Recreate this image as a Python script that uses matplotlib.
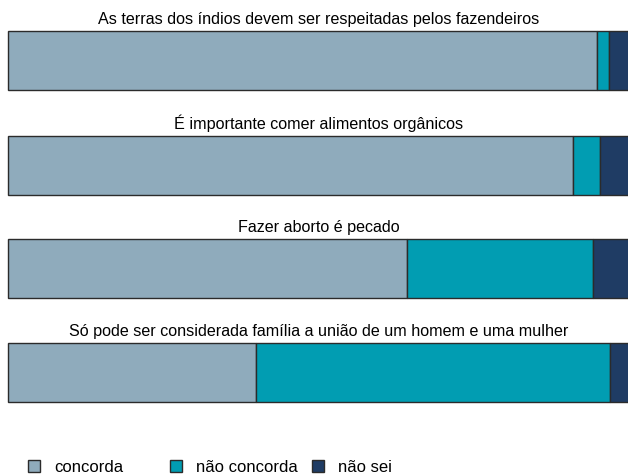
import matplotlib.pyplot as plt
from matplotlib.patches import Patch

plt.rcParams['font.family'] = ['Liberation Sans', 'DejaVu Sans']

# survey statements and share of answers (fractions of 1)
perguntas = [
    'As terras dos índios devem ser respeitadas pelos fazendeiros',
    'É importante comer alimentos orgânicos',
    'Fazer aborto é pecado',
    'Só pode ser considerada família a união de um homem e uma mulher',
]
concorda = [0.947, 0.908, 0.641, 0.399]
nao_concorda = [0.019, 0.044, 0.299, 0.569]
nao_sei = [0.034, 0.048, 0.060, 0.032]

categorias = ['concorda', 'não concorda', 'não sei']
cores = ['#8fabbc', '#019db2', '#1f3c64']

W, H = 628, 474
fig = plt.figure(figsize=(W / 100, H / 100), dpi=100)

# top pixel of each bar panel
tops = [31, 136, 239, 343]
bar_h = 59

for i, q in enumerate(perguntas):
    ax = fig.add_axes([8 / W, 1 - (tops[i] + bar_h) / H, 622 / W, bar_h / H])
    left = 0
    for val, cor in zip([concorda[i], nao_concorda[i], nao_sei[i]], cores):
        ax.barh(0, val, left=left, height=1, color=cor,
                edgecolor='#2b2b2b', linewidth=1.0, clip_on=False)
        left += val
    ax.set_xlim(0, 1)
    ax.set_ylim(-0.5, 0.5)
    ax.axis('off')
    ax.set_title(q, fontsize=11.6, pad=5)

# legend entries spaced like the original
xs = [28, 170, 312]
for x, lab, cor in zip(xs, categorias, cores):
    h = Patch(facecolor=cor, edgecolor='#2b2b2b', linewidth=1.0)
    fig.legend(handles=[h], labels=[lab], loc='center left',
               bbox_to_anchor=(x / W, 1 - 467 / H), frameon=False,
               fontsize=12, handlelength=0.72, handleheight=0.72,
               handletextpad=0.85, borderaxespad=0, borderpad=0)

fig.savefig('out.png', dpi=100)
